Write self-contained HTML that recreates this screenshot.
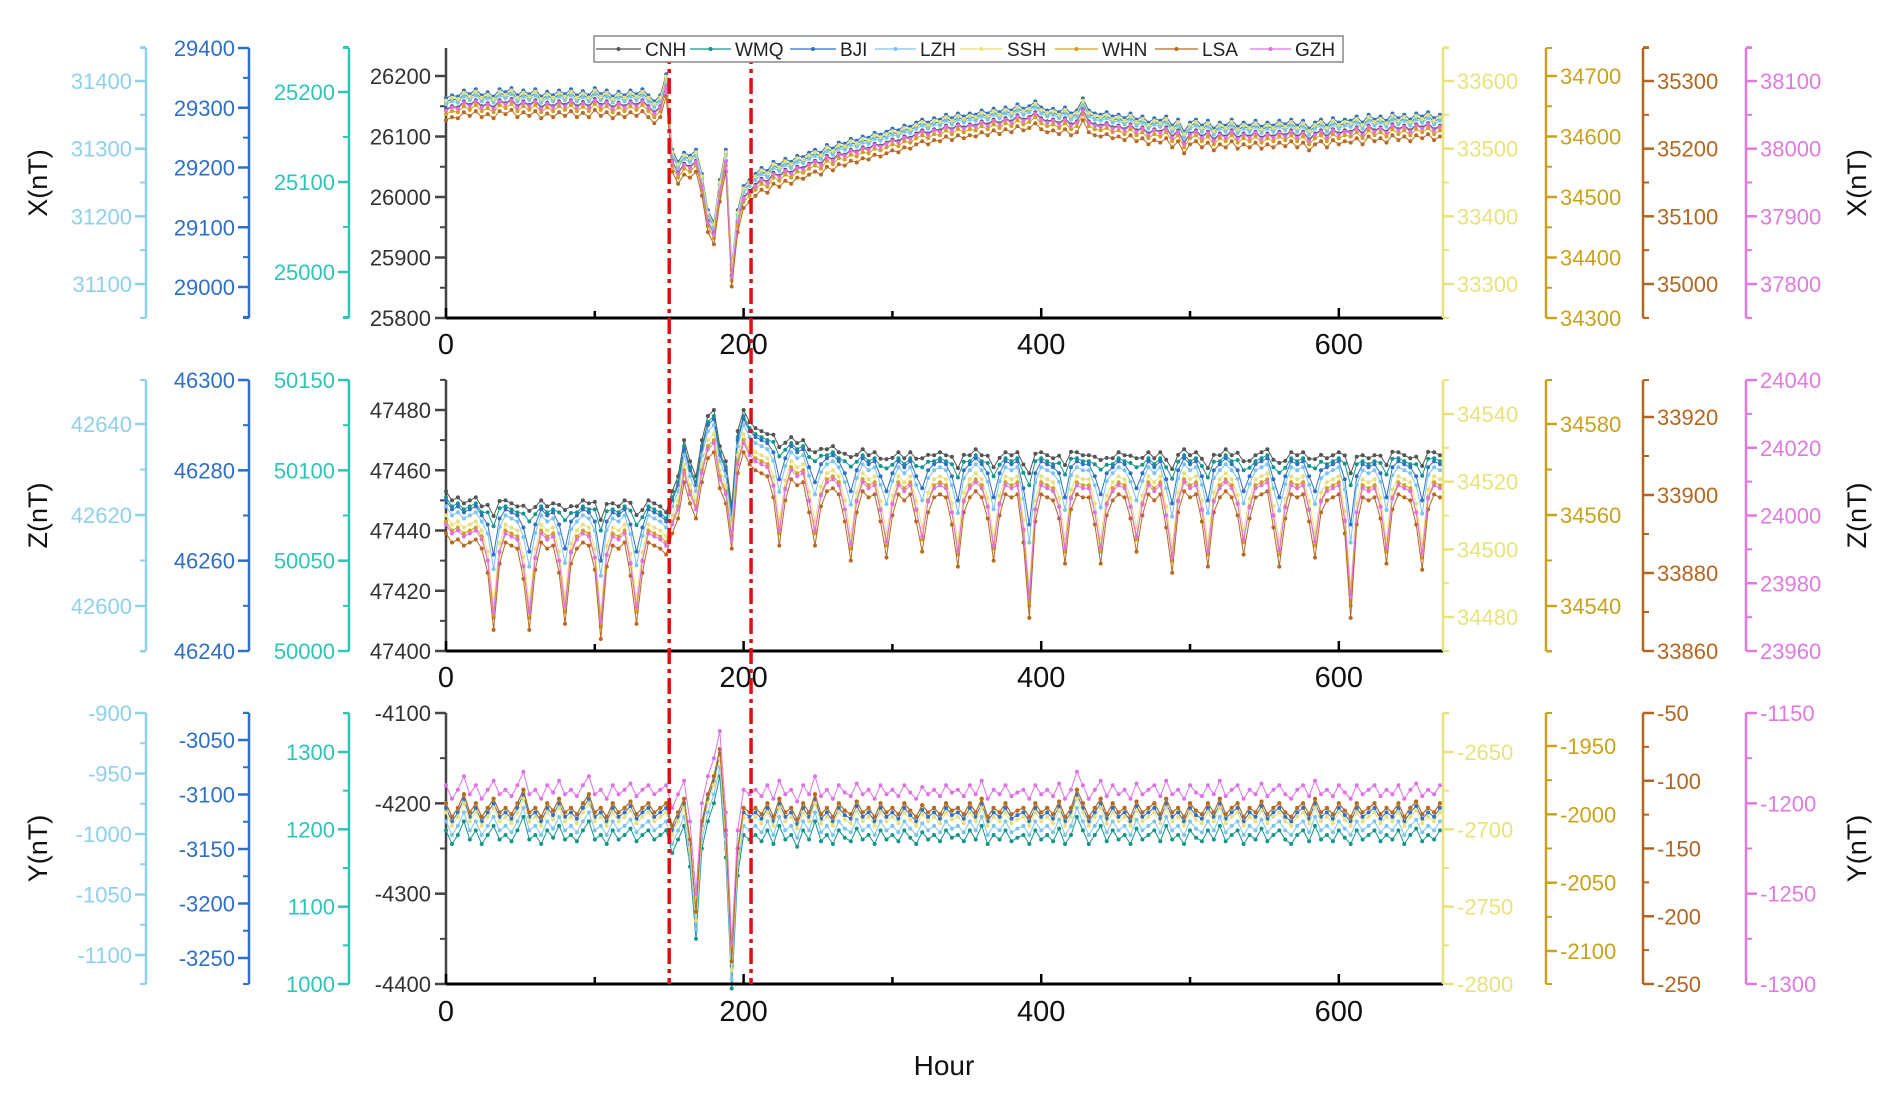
<!DOCTYPE html>
<html><head><meta charset="utf-8"><style>
html,body{margin:0;padding:0;background:#fff;}
svg{display:block;font-family:"Liberation Sans",sans-serif;}
</style></head><body>
<svg id="chart" width="1892" height="1093" viewBox="0 0 1892 1093" xmlns="http://www.w3.org/2000/svg"></svg>
<script>
const STEP = 4;
const stations = ["CNH","WMQ","BJI","LZH","SSH","WHN","LSA","GZH"];
const colors = ["#555555","#14958c","#2f6fc4","#7cc4ee","#e8e080","#d4a017","#b86a20","#e070e8"];
const xOffset = [0,12,18,8,14,-8,-18,-2];
const zOffset = [8,6,5,3,0,-2,-6,-3];
const zDipScale = [0.15,0.2,0.5,0.6,0.9,1,1,0.9];
const yOffset = [0,-30,-5,-20,-10,0,0,20];
const eventHours = [150,205];
const xTicks = [0,200,400,600];
const xLevel = [26145,26150,26148,26158,26152,26160,26150,26155,26148,26160,
26155,26162,26150,26158,26152,26160,26148,26156,26150,26158,
26152,26160,26150,26157,26150,26162,26152,26158,26148,26156,
26150,26158,26152,26160,26150,26140,26150,
26185,26060,26040,26055,26050,26060,26020,25960,25940,26010,26060,25870,25960,26000,26010,
26020,26030,26025,26040,26035,26045,26040,26050,26048,26055,
26060,26055,26068,26062,26072,26070,26078,26075,26082,26080,26088,26085,26090,
26095,26092,26100,26098,26105,26110,26105,26112,26110,26118,26112,26120,26115,
26120,26118,26125,26120,26128,26122,26130,26125,26135,26128,26132,26140,26130,
26125,26128,26122,26130,26120,26125,26145,26125,26120,26118,26122,26115,
26118,26112,26120,26110,26115,26105,26112,26108,26115,26100,26110,26090,26105,
26110,26100,26108,26095,26105,26100,26110,26098,26105,26100,26108,26098,26105,
26100,26108,26102,26110,26100,26108,26095,26105,26110,26100,26112,26105,26110,
26108,26115,26105,26118,26110,26115,26108,26120,26112,26118,26110,26120,26115,26122,26112,26118];
const zLevel = [47445,47442,47443,47441,47442,47443,47440,47442,47441,47443,47442,47441,47440,47442,47443,47441,47442,47440,47441,47442,47443,47441,47440,47442,47441,47443,47440,47442,47441,47440,47442,47443,47441,47440,47442,47441,47440,
47438,47445,47450,47462,47455,47450,47462,47470,47472,47460,47455,47440,47465,47472,47468,
47466,47465,47464,47465,47463,47462,47463,47461,47462,47460,47461,47460,47459,47460,47458,47459,47460,47458,47459,47457,
47458,47457,47459,47457,47458,47456,47458,47457,47459,47458,47457,47458,
47457,47458,47456,47458,47457,47459,47457,47458,47456,47457,47458,47457,
47458,47456,47457,47459,47458,47457,47456,47458,47457,47459,47458,47457,
47457,47458,47459,47457,47456,47458,47457,47458,47459,47457,47458,47456,
47458,47457,47456,47458,47459,47457,47458,47457,47456,47458,47457,47459,
47457,47459,47458,47456,47457,47458,47459,47457,47458,47456,47458,47457,
47458,47457,47459,47458,47456,47457,47458,47459,47457,47458,47457,47456,
47457,47458,47457,47459,47458,47457,47456,47458,47457,47459,47458,47457];
const zDip = [0,0,0,0,0,0,0,10,28,8,0,0,
0,12,30,8,0,0,0,10,28,6,0,0,
0,10,30,8,0,0,0,12,26,8,0,0,
0,0,0,0,0,0,0,0,0,0,0,0,
0,0,0,0,0,0,0,8,22,6,0,0,
0,8,20,6,0,0,0,10,24,6,0,0,
0,8,22,6,0,0,0,8,20,6,0,0,
0,10,22,6,0,0,0,8,20,6,0,0,
0,14,40,10,0,0,0,8,22,6,0,0,
0,10,24,6,0,0,0,8,20,6,0,0,
0,10,24,6,0,0,0,8,22,6,0,0,
0,8,20,6,0,0,0,10,24,6,0,0,
0,8,22,6,0,0,0,14,40,10,0,0,
0,8,22,6,0,0,0,10,24,6,0,0];
const yLevel = [-4200,-4215,-4205,-4190,-4210,-4200,-4215,-4205,-4195,-4210,-4205,-4212,-4200,-4185,-4210,-4205,-4215,-4200,-4208,-4195,-4210,-4205,-4212,-4200,-4190,-4210,-4205,-4215,-4200,-4210,-4205,-4198,-4212,-4205,-4200,-4210,-4205,
-4200,-4225,-4210,-4195,-4240,-4320,-4220,-4190,-4170,-4140,-4230,-4375,-4250,-4205,-4210,
-4205,-4212,-4200,-4215,-4195,-4210,-4205,-4218,-4200,-4210,-4190,-4212,
-4205,-4215,-4200,-4208,-4212,-4198,-4210,-4205,-4215,-4200,-4210,-4205,
-4212,-4200,-4208,-4215,-4202,-4210,-4205,-4212,-4200,-4208,-4205,-4212,
-4200,-4210,-4195,-4215,-4205,-4210,-4200,-4212,-4208,-4205,-4215,-4200,
-4210,-4205,-4212,-4198,-4215,-4205,-4185,-4200,-4215,-4205,-4195,-4212,
-4200,-4210,-4205,-4215,-4198,-4210,-4205,-4200,-4212,-4195,-4210,-4205,
-4215,-4200,-4208,-4212,-4200,-4210,-4195,-4212,-4205,-4200,-4215,-4205,
-4210,-4198,-4212,-4205,-4200,-4210,-4215,-4205,-4200,-4212,-4195,-4210,
-4205,-4212,-4200,-4208,-4215,-4200,-4210,-4205,-4200,-4212,-4205,-4210,
-4200,-4215,-4205,-4198,-4212,-4205,-4210,-4200];

const NS="http://www.w3.org/2000/svg";
const svg=document.getElementById('chart');
const X0=446,X1=1443,HMAX=670;
const TF=22;
function xs(h){return X0+(h/HMAX)*(X1-X0);}
function el(tag,attrs,parent,txt){const e=document.createElementNS(NS,tag);for(const k in attrs)e.setAttribute(k,attrs[k]);if(txt!==undefined)e.textContent=txt;(parent||svg).appendChild(e);return e;}
function lin(v1,y1,v2,y2){return v=>y1+(v-v1)*(y2-y1)/(v2-v1);}

const panels=[
 {key:"x",top:48,bot:318,main:lin(25800,318,26200,76),mainTicks:[25800,25900,26000,26100,26200],minor:50,title:"X(nT)",labY:343,
  left:[{c:"#8fd0ea",x:146,f:lin(31100,284,31400,81),t:[31100,31200,31300,31400],m:50},
        {c:"#2f6fc4",x:249,f:lin(29000,287,29400,48),t:[29000,29100,29200,29300,29400],m:50},
        {c:"#2ec4b6",x:349,f:lin(25000,272,25200,92),t:[25000,25100,25200],m:50}],
  right:[{c:"#e8e37a",x:1443,f:lin(33300,284,33600,81),t:[33300,33400,33500,33600],m:50},
        {c:"#c9a21a",x:1546,f:lin(34300,318,34700,76),t:[34300,34400,34500,34600,34700],m:50},
        {c:"#b5651d",x:1643,f:lin(35000,284,35300,81),t:[35000,35100,35200,35300],m:50},
        {c:"#e07ae0",x:1746,f:lin(37800,284,38100,81),t:[37800,37900,38000,38100],m:50}]},
 {key:"z",top:380,bot:651,main:lin(47400,651,47480,410),mainTicks:[47400,47420,47440,47460,47480],minor:10,title:"Z(nT)",labY:676,
  left:[{c:"#8fd0ea",x:146,f:lin(42600,606,42640,424),t:[42600,42620,42640],m:10},
        {c:"#2f6fc4",x:249,f:lin(46240,651,46300,380),t:[46240,46260,46280,46300],m:10},
        {c:"#2ec4b6",x:349,f:lin(50000,651,50150,380),t:[50000,50050,50100,50150],m:25}],
  right:[{c:"#e8e37a",x:1443,f:lin(34480,617,34540,414),t:[34480,34500,34520,34540],m:10},
        {c:"#c9a21a",x:1546,f:lin(34540,606,34580,424),t:[34540,34560,34580],m:10},
        {c:"#b5651d",x:1643,f:lin(33860,651,33920,417),t:[33860,33880,33900,33920],m:10},
        {c:"#e07ae0",x:1746,f:lin(23960,651,24040,380),t:[23960,23980,24000,24020,24040],m:10}]},
 {key:"y",top:713,bot:984,main:lin(-4400,984,-4100,713),mainTicks:[-4400,-4300,-4200,-4100],minor:50,title:"Y(nT)",labY:1010,
  left:[{c:"#8fd0ea",x:146,f:lin(-1100,955,-900,713),t:[-1100,-1050,-1000,-950,-900],m:25},
        {c:"#2f6fc4",x:249,f:lin(-3250,958,-3050,740),t:[-3250,-3200,-3150,-3100,-3050],m:25},
        {c:"#2ec4b6",x:349,f:lin(1000,984,1300,752),t:[1000,1100,1200,1300],m:50}],
  right:[{c:"#e8e37a",x:1443,f:lin(-2800,984,-2650,752),t:[-2800,-2750,-2700,-2650],m:25},
        {c:"#c9a21a",x:1546,f:lin(-2100,951,-1950,746),t:[-2100,-2050,-2000,-1950],m:25},
        {c:"#b5651d",x:1643,f:lin(-250,984,-50,713),t:[-250,-200,-150,-100,-50],m:25},
        {c:"#e07ae0",x:1746,f:lin(-1300,984,-1150,713),t:[-1300,-1250,-1200,-1150],m:25}]}
];

function extraAxis(ax,p,side,name){
  const g=el('g',{},svg);
  
  
  el('line',{x1:ax.x,y1:p.top,x2:ax.x,y2:p.bot,stroke:ax.c,'stroke-width':2.5},g);
  const d=side==='left'?-1:1;
  el('line',{x1:ax.x,y1:p.top,x2:ax.x+d*6,y2:p.top,stroke:ax.c,'stroke-width':2},g);
  el('line',{x1:ax.x,y1:p.bot,x2:ax.x+d*6,y2:p.bot,stroke:ax.c,'stroke-width':2},g);
  const lo=ax.t[0],hi=ax.t[ax.t.length-1];
  for(let v=lo-ax.m*4;v<=hi+ax.m*4;v+=ax.m){const y=ax.f(v);if(y<p.top-1||y>p.bot+1)continue;
    el('line',{x1:ax.x,y1:y,x2:ax.x+d*6,y2:y,stroke:ax.c,'stroke-width':2},g);}
  ax.t.forEach(v=>{const y=ax.f(v);
    el('line',{x1:ax.x,y1:y,x2:ax.x+d*11,y2:y,stroke:ax.c,'stroke-width':2.5},g);
    el('text',{x:ax.x+d*14,y:y+8,fill:ax.c,'font-size':TF,'text-anchor':side==='left'?'end':'start'},g,String(v));});
}

panels.forEach(p=>{
  const pg=el('g',{},svg);
  
  
  p.left.forEach((a,i)=>extraAxis(a,p,'left',p.key+'-left-axis-'+i));
  p.right.forEach((a,i)=>extraAxis(a,p,'right',p.key+'-right-axis-'+i));
  el('line',{x1:X0,y1:p.top,x2:X0,y2:p.bot,stroke:'#444','stroke-width':2.5},pg);
  for(let v=p.mainTicks[0];v<=p.mainTicks[p.mainTicks.length-1]+p.minor*2;v+=p.minor){const y=p.main(v);if(y<p.top-1)continue;
    el('line',{x1:X0,y1:y,x2:X0-6,y2:y,stroke:'#444','stroke-width':2},pg);}
  p.mainTicks.forEach(v=>{const y=p.main(v);
    el('line',{x1:X0,y1:y,x2:X0-11,y2:y,stroke:'#444','stroke-width':2.5},pg);
    el('text',{x:X0-15,y:y+8,fill:'#333','font-size':TF,'text-anchor':'end'},pg,String(v));});
  const tl=el('text',{x:0,y:0,'font-size':27,fill:'#111','text-anchor':'middle',transform:`translate(47,${(p.top+p.bot)/2}) rotate(-90)`},pg,p.title);
  
  
  const tr=el('text',{x:0,y:0,'font-size':27,fill:'#111','text-anchor':'middle',transform:`translate(1866,${(p.top+p.bot)/2}) rotate(-90)`},pg,p.title);
  
  
  for(let s=0;s<stations.length;s++){
    const sg=el('g',{},pg);
    
    
    let pts=[];
    const n=p.key==='x'?xLevel.length:p.key==='z'?zLevel.length:yLevel.length;
    for(let i=0;i<n;i++){
      let v;
      if(p.key==='x')v=xLevel[i]+xOffset[s];
      else if(p.key==='z')v=zLevel[i]+zOffset[s]-zDip[i]*zDipScale[s];
      else v=yLevel[i]+yOffset[s];
      pts.push([xs(i*STEP),p.main(v)]);
    }
    el('polyline',{points:pts.map(q=>q[0].toFixed(1)+','+q[1].toFixed(1)).join(' '),fill:'none',stroke:colors[s],'stroke-width':1},sg);
    pts.forEach(q=>{el('circle',{cx:q[0].toFixed(1),cy:q[1].toFixed(1),r:2,fill:colors[s]},sg);});
  }
  el('line',{x1:X0,y1:p.bot,x2:X1,y2:p.bot,stroke:'#000','stroke-width':3},pg);
  for(let h=0;h<=HMAX;h+=100){el('line',{x1:xs(h),y1:p.bot,x2:xs(h),y2:p.bot-(h%200===0?10:7),stroke:'#000','stroke-width':2.5},pg);}
  xTicks.forEach(h=>{el('text',{x:xs(h),y:p.labY+11,'font-size':29,fill:'#111','text-anchor':'middle'},pg,String(h));});
});

eventHours.forEach((h,i)=>{
  const l=el('line',{x1:xs(h),y1:48,x2:xs(h),y2:984,stroke:'#e01010','stroke-width':3.5,'stroke-dasharray':'16,5,4,5'});
  
  
});

const xl=el('text',{x:944,y:1075,'font-size':28,fill:'#111','text-anchor':'middle'},svg,'Hour');



const lg=el('g',{},svg);


el('rect',{x:594,y:36,width:749,height:26,fill:'#fff',stroke:'#888','stroke-width':1.5},lg);
const legTextX=[645,735,840,920,1007,1102,1202,1295];
const legLineX=[596,690,790,875,960,1055,1155,1250];
stations.forEach((st,i)=>{
  const eg=el('g',{},lg);
  
  
  el('line',{x1:legLineX[i],y1:49,x2:legTextX[i]-4,y2:49,stroke:colors[i],'stroke-width':1.2},eg);
  el('circle',{cx:(legLineX[i]+legTextX[i]-4)/2,cy:49,r:2,fill:colors[i]},eg);
  el('text',{x:legTextX[i],y:56,'font-size':19,fill:'#222'},eg,st);
});
</script>
</body></html>
